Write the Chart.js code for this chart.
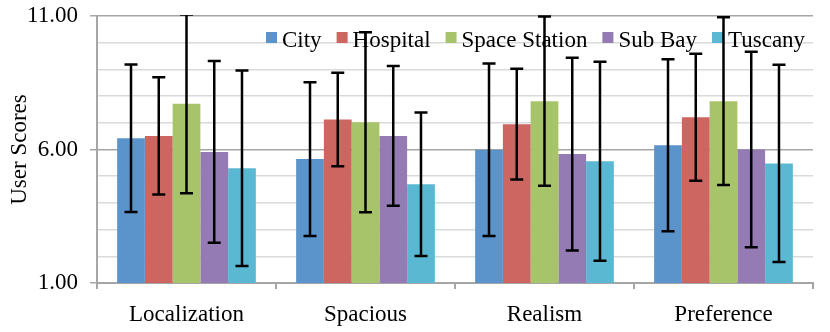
<!DOCTYPE html>
<html>
<head>
<meta charset="utf-8">
<script src="https://cdn.jsdelivr.net/npm/chart.js@4.4.1/dist/chart.umd.min.js"></script>
<style>
  body { margin: 0; background: #fff; }
  #wrap { position: relative; width: 830px; height: 332px; }
</style>
</head>
<body>
<div id="wrap"><canvas id="scores-chart"></canvas></div>
<script>
// Données
const categories = ['Localization', 'Spacious', 'Realism', 'Preference'];
const seriesNames = ['City', 'Hospital', 'Space Station', 'Sub Bay', 'Tuscany'];
const seriesColors = ['#5B93CB', '#CD6560', '#A8C46A', '#947BB3', '#5BB8D2'];

const cityScores     = [6.42, 5.64, 5.99, 6.16];
const hospitalScores = [6.51, 7.12, 6.95, 7.21];
const stationScores  = [7.71, 7.02, 7.81, 7.81];
const subBayScores   = [5.91, 6.51, 5.83, 6.00];
const tuscanyScores  = [5.30, 4.70, 5.56, 5.48];

// Écart (barres d'erreur symétriques)
const cityErr     = [2.76, 2.88, 3.23, 3.22];
const hospitalErr = [2.20, 1.75, 2.07, 2.38];
const stationErr  = [3.35, 3.37, 3.17, 3.14];
const subBayErr   = [3.40, 2.62, 3.61, 3.66];
const tuscanyErr  = [3.66, 2.69, 3.73, 3.69];

const yTicks = [1, 6, 11];

const allScores = [cityScores, hospitalScores, stationScores, subBayScores, tuscanyScores];
const allErrors = [cityErr, hospitalErr, stationErr, subBayErr, tuscanyErr];

const FONT = { family: "'Liberation Serif', 'Times New Roman', serif", size: 23 };
const AXIS_GRAY = '#a6a6a6';

// Légende dessinée dans la zone du graphique (sous les barres d'erreur)
const insideLegend = {
    id: 'insideLegend',
    beforeDatasetsDraw(chart) {
        const c = chart.ctx;
        c.save();
        c.font = `${FONT.size}px ${FONT.family}`;
        c.textBaseline = 'alphabetic';
        let x = 266;
        seriesNames.forEach((name, i) => {
            c.fillStyle = seriesColors[i];
            c.fillRect(x, 32, 11, 11);
            c.fillStyle = '#000';
            c.fillText(name, x + 16, 47);
            x += 16 + c.measureText(name).width + 15;
        });
        c.restore();
    }
};

// Barres d'erreur
const errorBars = {
    id: 'errorBars',
    afterDatasetsDraw(chart) {
        const c = chart.ctx;
        const y = chart.scales.y;
        const area = chart.chartArea;
        c.save();
        c.beginPath();
        c.rect(area.left, area.top - 1, area.right - area.left, area.bottom - area.top + 2);
        c.clip();
        c.strokeStyle = '#000';
        c.lineWidth = 2.5;
        chart.data.datasets.forEach((ds, i) => {
            const meta = chart.getDatasetMeta(i);
            meta.data.forEach((bar, j) => {
                const v = ds.data[j];
                const e = allErrors[i][j];
                const yt = y.getPixelForValue(v + e);
                const yb = y.getPixelForValue(v - e);
                const x = bar.x;
                c.beginPath();
                c.moveTo(x, yt); c.lineTo(x, yb);
                c.moveTo(x - 6.5, yt); c.lineTo(x + 6.5, yt);
                c.moveTo(x - 6.5, yb); c.lineTo(x + 6.5, yb);
                c.stroke();
            });
        });
        c.restore();
    }
};

new Chart(document.getElementById('scores-chart'), {
    type: 'bar',
    data: {
        labels: categories,
        datasets: seriesNames.map((name, i) => ({
            label: name,
            data: allScores[i],
            backgroundColor: seriesColors[i],
            borderWidth: 0,
            barPercentage: 1,
            categoryPercentage: 0.775
        }))
    },
    options: {
        responsive: true,
        maintainAspectRatio: false,
        animation: false,
        layout: { padding: { left: 0, right: 17, top: 16, bottom: 0 } },
        plugins: { legend: { display: false }, tooltip: { enabled: false } },
        scales: {
            x: {
                afterFit: s => { s.height = 49; },
                grid: { drawOnChartArea: false, tickLength: 6, color: AXIS_GRAY, lineWidth: 2 },
                border: { color: AXIS_GRAY, width: 2 },
                ticks: { color: '#000', font: FONT, padding: 12 }
            },
            y: {
                min: 1,
                max: 11,
                afterFit: s => { s.width = 97; s.paddingTop = 0; s.paddingBottom = 0; },
                ticks: {
                    stepSize: 1,
                    autoSkip: false,
                    color: '#000',
                    font: FONT,
                    padding: 12,
                    callback: v => yTicks.includes(v) ? v.toFixed(2) : ''
                },
                grid: {
                    tickLength: 7,
                    lineWidth: 1.5,
                    color: ctx => yTicks.includes(ctx.tick.value) ? AXIS_GRAY : '#dadada',
                    tickColor: ctx => yTicks.includes(ctx.tick.value) ? AXIS_GRAY : 'rgba(0,0,0,0)'
                },
                border: { color: AXIS_GRAY, width: 2 },
                title: { display: true, text: 'User Scores', color: '#000', font: FONT, padding: { top: 6, bottom: 0 } }
            }
        }
    },
    plugins: [insideLegend, errorBars]
});
</script>
</body>
</html>
